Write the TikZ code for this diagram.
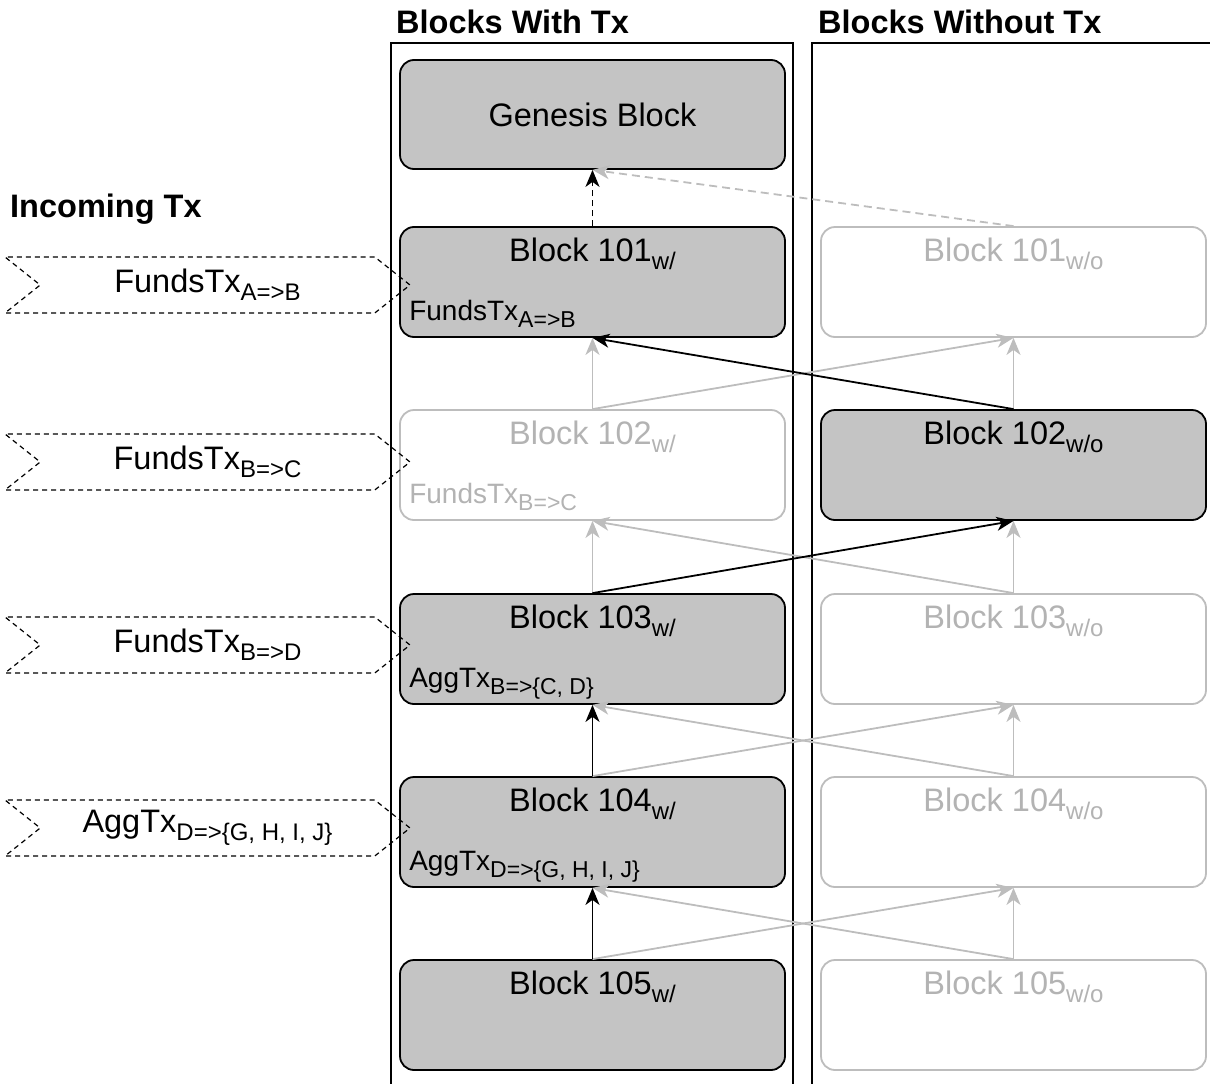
\documentclass[tikz,border=0pt]{standalone}
\usepackage{fontspec}
\setmainfont{Liberation Sans}
\usetikzlibrary{arrows.meta,shapes.symbols}
\definecolor{blockfill}{HTML}{C4C4C4}
\definecolor{dimline}{HTML}{BDBDBD}
\definecolor{dimtext}{HTML}{B3B3B3}
\newcommand\bigsub[1]{\raisebox{-8pt}{\fontsize{24}{24}\selectfont #1}}
\newcommand\smallsub[1]{\raisebox{-7pt}{\fontsize{23}{23}\selectfont #1}}
\tikzset{
  blk/.style={draw=black, line width=1.8pt, fill=blockfill, rounded corners=14pt,
    minimum width=385pt, minimum height=110pt, inner sep=0pt},
  dimblk/.style={blk, draw=dimline, fill=white},
  title/.style={font=\fontsize{32.5}{36}\selectfont, anchor=base, inner sep=0pt},
  txtext/.style={font=\fontsize{28}{32}\selectfont, anchor=base west, inner sep=0pt},
  head/.style={font=\bfseries\fontsize{32.5}{36}\selectfont, anchor=base west, inner sep=0pt},
  incoming/.style={signal, signal to=east, signal from=west, signal pointer angle=77,
    draw=black, dashed, dash pattern=on 5pt off 4pt, line width=1.2pt,
    minimum width=405pt, minimum height=56pt, inner sep=0pt,
    font=\fontsize{32.5}{36}\selectfont},
  con/.style={line width=1.8pt, -{Stealth[length=17pt,width=14pt,inset=5pt]}},
  blackcon/.style={con, draw=black},
  dimcon/.style={con, draw=dimline},
}
\begin{document}
\begin{tikzpicture}[x=1pt,y=-1pt]
\useasboundingbox (0,0) rectangle (1210,1084);
% column frames
\draw[line width=1.8pt] (391,1090) -- (391,43) -- (793,43) -- (793,1090);
\draw[line width=1.8pt] (812,1090) -- (812,43) -- (1215,43);
\node[head] (hw) at (396,33) {Blocks With Tx};
\node[head] (hwo) at (818,33) {Blocks Without Tx};
\node[head] (hin) at (10,217) {Incoming Tx};

% blocks
\node[blk, minimum height=109pt] (gen) at (592.5,114.5) {\fontsize{32.5}{36}\selectfont Genesis Block};
\node[blk] (w1) at (592.5,282) {};
\node[dimblk] (w2) at (592.5,465) {};
\node[blk] (w3) at (592.5,649) {};
\node[blk] (w4) at (592.5,832) {};
\node[blk] (w5) at (592.5,1015) {};
\node[dimblk] (o1) at (1013.5,282) {};
\node[blk] (o2) at (1013.5,465) {};
\node[dimblk] (o3) at (1013.5,649) {};
\node[dimblk] (o4) at (1013.5,832) {};
\node[dimblk] (o5) at (1013.5,1015) {};

% block titles
\node[title] (tw1) at ([yshift=-35pt]w1.north) {Block 101\bigsub{w/}};
\node[title, text=dimtext] (tw2) at ([yshift=-35pt]w2.north) {Block 102\bigsub{w/}};
\node[title] (tw3) at ([yshift=-35pt]w3.north) {Block 103\bigsub{w/}};
\node[title] (tw4) at ([yshift=-35pt]w4.north) {Block 104\bigsub{w/}};
\node[title] (tw5) at ([yshift=-35pt]w5.north) {Block 105\bigsub{w/}};
\node[title, text=dimtext] (to1) at ([yshift=-35pt]o1.north) {Block 101\bigsub{w/o}};
\node[title] (to2) at ([yshift=-35pt]o2.north) {Block 102\bigsub{w/o}};
\node[title, text=dimtext] (to3) at ([yshift=-35pt]o3.north) {Block 103\bigsub{w/o}};
\node[title, text=dimtext] (to4) at ([yshift=-35pt]o4.north) {Block 104\bigsub{w/o}};
\node[title, text=dimtext] (to5) at ([yshift=-35pt]o5.north) {Block 105\bigsub{w/o}};

% tx inside blocks
\node[txtext] (x1) at ([xshift=10pt,yshift=17pt]w1.south west) {FundsTx\smallsub{A=>B}};
\node[txtext, text=dimtext] (x2) at ([xshift=10pt,yshift=17pt]w2.south west) {FundsTx\smallsub{B=>C}};
\node[txtext] (x3) at ([xshift=10pt,yshift=17pt]w3.south west) {AggTx\smallsub{B=>\{C, D\}}};
\node[txtext] (x4) at ([xshift=10pt,yshift=17pt]w4.south west) {AggTx\smallsub{D=>\{G, H, I, J\}}};

% incoming tx
\node[incoming] (i1) at (207.5,285) {FundsTx\bigsub{A=>B}};
\node[incoming] (i2) at (207.5,462) {FundsTx\bigsub{B=>C}};
\node[incoming] (i3) at (207.5,645) {FundsTx\bigsub{B=>D}};
\node[incoming] (i4) at (207.5,828) {AggTx\bigsub{D=>\{G, H, I, J\}}};

% gray connectors
\draw[dimcon, dashed, dash pattern=on 8pt off 5pt] (o1.north) -- (gen.south);
\draw[dimcon] (w2.north) -- (w1.south);
\draw[dimcon] (w2.north) -- (o1.south);
\draw[dimcon] (o2.north) -- (o1.south);
\draw[dimcon] (w3.north) -- (w2.south);
\draw[dimcon] (o3.north) -- (w2.south);
\draw[dimcon] (o3.north) -- (o2.south);
\draw[dimcon] (w4.north) -- (o3.south);
\draw[dimcon] (o4.north) -- (w3.south);
\draw[dimcon] (o4.north) -- (o3.south);
\draw[dimcon] (w5.north) -- (o4.south);
\draw[dimcon] (o5.north) -- (w4.south);
\draw[dimcon] (o5.north) -- (o4.south);

% black connectors
\draw[blackcon, dashed, dash pattern=on 6pt off 4pt] (w1.north) -- (gen.south);
\draw[blackcon] (o2.north) -- (w1.south);
\draw[blackcon] (w3.north) -- (o2.south);
\draw[blackcon] (w4.north) -- (w3.south);
\draw[blackcon] (w5.north) -- (w4.south);
\end{tikzpicture}
\end{document}
